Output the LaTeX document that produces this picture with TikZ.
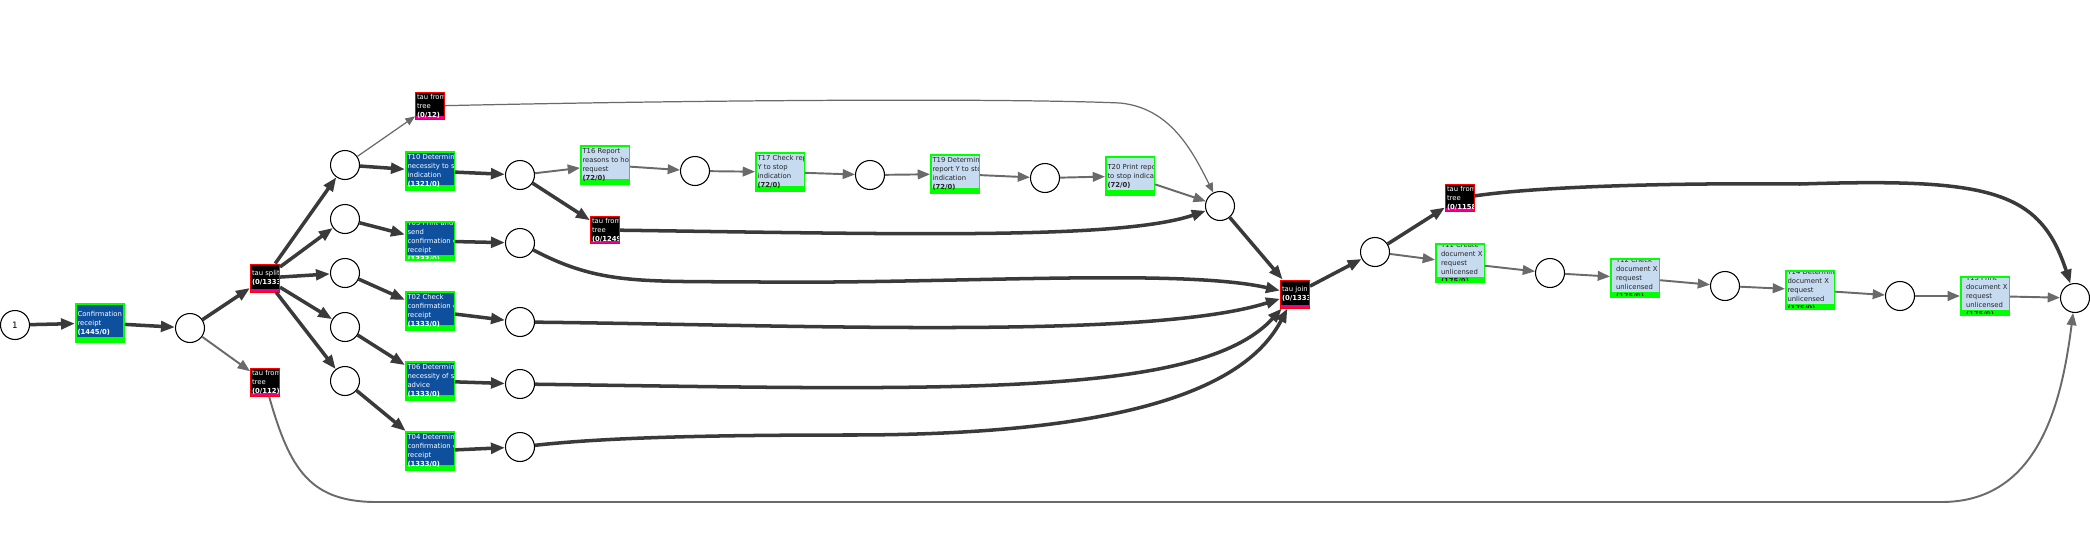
\documentclass[tikz,border=0pt]{standalone}
\usepackage{fontspec}
\setmainfont{DejaVu Sans}
\usetikzlibrary{arrows.meta,positioning}
\definecolor{tdblue}{RGB}{14,80,158}
\definecolor{tlblue}{RGB}{198,218,240}
\definecolor{tgreen}{RGB}{0,255,0}
\definecolor{arcdark}{RGB}{58,58,58}
\definecolor{arcgray}{RGB}{106,106,106}
\newcommand\boxfont{\fontsize{3.9}{5.1}\selectfont}
\newcommand\boxtext[4]{%
	\fill[#2] (path picture bounding box.south west) rectangle ([yshift=#3]path picture bounding box.south east);
	\node[anchor=west,inner sep=0pt,align=left,text=#1,font=\boxfont] at ([xshift=0.02cm]path picture bounding box.west) {#4};}
\tikzset{
	place/.style={circle,draw,fill=white,line width=0.6pt,minimum size=0.58cm,inner sep=0,font=\fontsize{5}{6}\selectfont},
	trans/.style={rectangle,draw=tgreen,line width=0.03cm,minimum width=0.97cm,minimum height=0.77cm,inner sep=0},
	dtrans/.style={trans,fill=tdblue,path picture={\boxtext{white}{tgreen}{0.1cm}{#1}}},
	ltrans/.style={trans,fill=tlblue,path picture={\boxtext{black!85}{tgreen}{0.1cm}{#1}}},
	silent/.style={rectangle,draw=red,fill=black,line width=0.02cm,minimum width=0.58cm,minimum height=0.56cm,inner sep=0,
		path picture={\boxtext{white}{magenta}{0.07cm}{#1}}},
	thickarc/.style={-{Triangle[length=8pt,width=6pt]},line width=2pt,color=arcdark},
	grayarc/.style={-{Triangle[length=7pt,width=5.5pt]},line width=1.1pt,color=arcgray},
	thinarc/.style={-{Triangle[length=5.5pt,width=4.5pt]},line width=0.7pt,color=arcgray}
}
\begin{document}
\begin{tikzpicture}[x=0.02cm,y=-0.02cm]
		\useasboundingbox (0,0) rectangle (2090,534);
		%%% start and split
		\node[place] (p1) at (15,325) {1};
		\node[dtrans={Confirmation of\\receipt\\\textbf{(1445/0)}}] (conf) at (100,323) {};
		\node[place] (p2) at (190,328) {};
		\node[silent={tau split\\\textbf{(0/1333)}}] (tsplit) at (265,278) {};
		\node[silent={tau from\\tree\\\textbf{(0/112)}}] (tbot) at (265,382) {};
		
		%%% parallel branches
		\node[place] (c1) at (345,165) {};
		\node[place] (c2) at (345,219) {};
		\node[place] (c3) at (345,273) {};
		\node[place] (c4) at (345,327) {};
		\node[place] (c5) at (345,381) {};
		\node[silent={tau from\\tree\\\textbf{(0/12)}}] (ttop) at (430,106) {};
		\node[dtrans={T10 Determine\\necessity to stop\\indication\\\textbf{(1321/0)}}] (t10) at (430,171) {};
		\node[dtrans={T05 Print and\\send\\confirmation of\\receipt\\\textbf{(1333/0)}}] (t05) at (430,241) {};
		\node[dtrans={T02 Check\\confirmation of\\receipt\\\textbf{(1333/0)}}] (t02) at (430,311) {};
		\node[dtrans={T06 Determine\\necessity of stop\\advice\\\textbf{(1333/0)}}] (t06) at (430,381) {};
		\node[dtrans={T04 Determine\\confirmation of\\receipt\\\textbf{(1333/0)}}] (t04) at (430,451) {};
		\node[place] (q1) at (520,175) {};
		\node[place] (q2) at (520,243) {};
		\node[place] (q3) at (520,322) {};
		\node[place] (q4) at (520,384) {};
		\node[place] (q5) at (520,447) {};
		
		%%% stop indication branch
		\node[ltrans={T16 Report\\reasons to hold\\request\\\textbf{(72/0)}}] (t16) at (605,165) {};
		\node[silent={tau from\\tree\\\textbf{(0/1249)}}] (tmid) at (605,230) {};
		\node[place] (r1) at (695,171) {};
		\node[ltrans={T17 Check report\\Y to stop\\indication\\\textbf{(72/0)}}] (t17) at (780,172) {};
		\node[place] (r2) at (870,175) {};
		\node[ltrans={T19 Determine\\report Y to stop\\indication\\\textbf{(72/0)}}] (t19) at (955,174) {};
		\node[place] (r3) at (1045,178) {};
		\node[ltrans={T20 Print report\\to stop indication\\\textbf{(72/0)}}] (t20) at (1130,176) {};
		\node[place] (pj) at (1220,206) {};
		\node[silent={tau join\\\textbf{(0/1333)}}] (tjoin) at (1295,294) {};
		
		%%% document X branch
		\node[place] (s1) at (1375,252) {};
		\node[silent={tau from\\tree\\\textbf{(0/1158)}}] (tright) at (1460,198) {};
		\node[ltrans={T11 Create\\document X\\request\\unlicensed\\\textbf{(175/0)}}] (t11) at (1460,263) {};
		\node[place] (s2) at (1550,273) {};
		\node[ltrans={T12 Check\\document X\\request\\unlicensed\\\textbf{(175/0)}}] (t12) at (1635,278) {};
		\node[place] (s3) at (1725,286) {};
		\node[ltrans={T14 Determine\\document X\\request\\unlicensed\\\textbf{(175/0)}}] (t14) at (1810,290) {};
		\node[place] (s4) at (1900,296) {};
		\node[ltrans={T15 Print\\document X\\request\\unlicensed\\\textbf{(175/0)}}] (t15) at (1985,296) {};
		\node[place] (pend) at (2075,298) {};
		
		%%% arcs
		\draw[thickarc] (p1) edge (conf) (conf) edge (p2) (p2) edge (tsplit)
		(tsplit) edge (c1) (tsplit) edge (c2) (tsplit) edge (c3) (tsplit) edge (c4) (tsplit) edge (c5)
		(c1) edge (t10) (c2) edge (t05) (c3) edge (t02) (c4) edge (t06) (c5) edge (t04)
		(t10) edge (q1) (t05) edge (q2) (t02) edge (q3) (t06) edge (q4) (t04) edge (q5)
		(q1) edge (tmid) (pj) edge (tjoin) (tjoin) edge (s1) (s1) edge (tright);
		\draw[grayarc] (p2) edge (tbot)
		(q1) edge (t16) (t16) edge (r1) (r1) edge (t17) (t17) edge (r2) (r2) edge (t19) (t19) edge (r3) (r3) edge (t20) (t20) edge (pj)
		(s1) edge (t11) (t11) edge (s2) (s2) edge (t12) (t12) edge (s3) (s3) edge (t14) (t14) edge (s4) (s4) edge (t15) (t15) edge (pend);
		\draw[thinarc] (c1) -- (ttop);
		
		%%% long arcs
		\draw[thinarc] (ttop) .. controls (700,100) and (1000,98) .. (1120,103) .. controls (1170,108) and (1192,150) .. (pj);
		\draw[thickarc] (tmid) .. controls (900,234) and (1120,240) .. (pj);
		\draw[thickarc] (q2) .. controls (600,285) and (640,281) .. (760,282) .. controls (950,284) and (1180,268) .. (tjoin);
		\draw[thickarc] (q3) .. controls (800,325) and (1150,340) .. (tjoin);
		\draw[thickarc] (q4) .. controls (950,390) and (1200,398) .. (tjoin);
		\draw[thickarc] (q5) .. controls (600,438) and (700,435) .. (850,435) .. controls (1150,435) and (1250,380) .. (tjoin);
		\draw[thickarc] (tright) .. controls (1550,185) and (1700,183) .. (1800,184) .. controls (1990,178) and (2040,190) .. (pend);
		\draw[grayarc] (tbot) .. controls (290,470) and (310,503) .. (380,502) -- (1940,502) .. controls (2040,503) and (2062,400) .. (pend);
	\end{tikzpicture}
\end{document}
